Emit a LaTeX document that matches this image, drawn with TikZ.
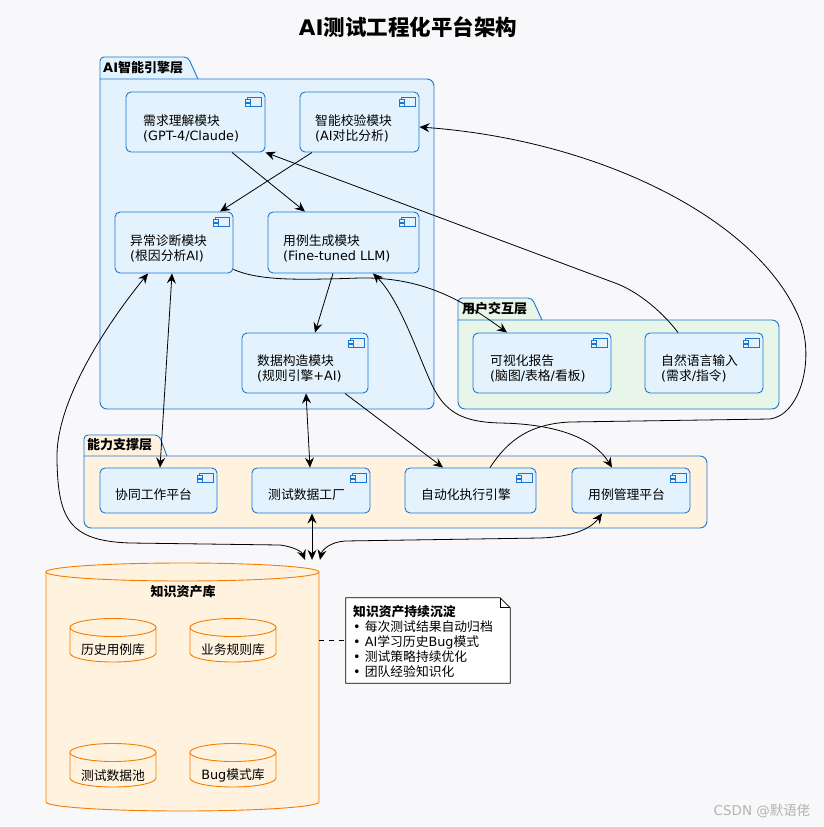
\documentclass[tikz,border=0pt]{standalone}
\usepackage{fontspec}
\setmainfont{DejaVu Sans}
\newfontfamily\cjk{Noto Sans CJK SC}
\usetikzlibrary{arrows.meta}
\definecolor{bline}{HTML}{1976D2}
\definecolor{compfill}{HTML}{E3F2FD}
\definecolor{aifill}{HTML}{E3F2FD}
\definecolor{userfill}{HTML}{E8F5E9}
\definecolor{capfill}{HTML}{FFF3E0}
\definecolor{dborange}{HTML}{F57C00}
\definecolor{bgcol}{HTML}{F8F8FA}
\definecolor{wmgray}{HTML}{B4B4B4}
\newcommand\zh[1]{{\cjk #1}}
\newcommand\cicon[1]{%
  \filldraw[iconst] ([xshift=-18pt,yshift=-6pt]#1.north east) rectangle ++(14pt,-9pt);
  \filldraw[iconst] ([xshift=-20.5pt,yshift=-8pt]#1.north east) rectangle ++(5pt,-2.3pt);
  \filldraw[iconst] ([xshift=-20.5pt,yshift=-12pt]#1.north east) rectangle ++(5pt,-2.3pt);
}
\newcommand\drawcyl[5]{%
  \fill[capfill] (#1-#2,#3) rectangle (#1+#2,#4);
  \fill[capfill] (#1,#4) ellipse [x radius=#2pt, y radius=#5pt];
  \draw[dbline] (#1-#2,#3) -- (#1-#2,#4) arc [start angle=180, end angle=360, x radius=#2pt, y radius=#5pt] -- (#1+#2,#3);
  \filldraw[fill=capfill, dbline] (#1,#3) ellipse [x radius=#2pt, y radius=#5pt];
}
\begin{document}
\begin{tikzpicture}[x=1pt,y=-1pt,
  comp/.style={draw=bline, fill=compfill, rounded corners=5pt, line width=0.9pt, inner sep=0pt},
  iconst/.style={draw=bline, fill=compfill, line width=0.7pt},
  txt/.style={font=\fontsize{12.8}{15}\selectfont, align=left, inner sep=0pt, anchor=west},
  pkgtxt/.style={font=\bfseries\fontsize{13}{15}\selectfont, inner sep=0pt, anchor=west},
  pkgline/.style={draw=bline, line width=0.9pt},
  dbline/.style={draw=dborange, line width=0.9pt},
  tipk/.tip={Stealth[length=10pt,width=9pt,inset=3.5pt]},
  arr/.style={-tipk, line width=0.8pt},
  arrb/.style={tipk-tipk, line width=0.8pt},
]
\useasboundingbox (0,0) rectangle (824,827);
\fill[bgcol] (0,0) rectangle (824,827);

% title
\node[font=\bfseries\fontsize{21.5}{26}\selectfont, inner sep=0pt] (title) at (408,27) {AI\zh{测试工程化平台架构}};

% ===== AI package
\filldraw[pkgline, fill=aifill, rounded corners=4pt] (100,79) -- (100,57) -- (188,57) -- (198,79);
\filldraw[pkgline, fill=aifill, rounded corners=7pt] (100,79) -- (434,79) -- (434,409) -- (100,409) -- (100,79);
\node[pkgtxt] (aipkg) at (103,68) {AI\zh{智能引擎层}};

% ===== user package
\filldraw[pkgline, fill=userfill, rounded corners=4pt] (458,320) -- (458,298) -- (532,298) -- (542,320);
\filldraw[pkgline, fill=userfill, rounded corners=7pt] (458,320) -- (779,320) -- (779,409) -- (458,409) -- (458,320);
\node[pkgtxt] (userpkg) at (462,309) {\zh{用户交互层}};

% ===== capability package
\filldraw[pkgline, fill=capfill, rounded corners=4pt] (84,456) -- (84,435) -- (159,435) -- (167,456);
\filldraw[pkgline, fill=capfill, rounded corners=7pt] (84,456) -- (707,456) -- (707,528) -- (84,528) -- (84,456);
\node[pkgtxt] (cappkg) at (87,445) {\zh{能力支撑层}};

% ===== components
\node[comp, minimum width=139pt, minimum height=60pt] (req) at (195.5,122) {};
\node[comp, minimum width=119pt, minimum height=60pt] (chk) at (359.5,122) {};
\node[comp, minimum width=118pt, minimum height=61pt] (diag) at (174,242.5) {};
\node[comp, minimum width=151pt, minimum height=61pt] (gen) at (343.5,242.5) {};
\node[comp, minimum width=126pt, minimum height=60pt] (data) at (305,363) {};
\node[comp, minimum width=138pt, minimum height=60pt] (vis) at (542,363) {};
\node[comp, minimum width=118pt, minimum height=60pt] (nl) at (704,363) {};
\node[comp, minimum width=117pt, minimum height=45pt] (collab) at (158.5,490.5) {};
\node[comp, minimum width=118pt, minimum height=45pt] (tdf) at (311,490.5) {};
\node[comp, minimum width=131pt, minimum height=45pt] (auto) at (470.5,490.5) {};
\node[comp, minimum width=118pt, minimum height=45pt] (mgmt) at (631,490.5) {};
\foreach \n in {req,chk,diag,gen,data,vis,nl,collab,tdf,auto,mgmt} {\cicon{\n}}

\node[txt] (reqt) at (143,128.5) {\zh{需求理解模块}\\(GPT-4/Claude)};
\node[txt] (chkt) at (315,128.5) {\zh{智能校验模块}\\(AI\zh{对比分析})};
\node[txt] (diagt) at (130,248.5) {\zh{异常诊断模块}\\(\zh{根因分析}AI)};
\node[txt] (gent) at (283,248.5) {\zh{用例生成模块}\\(Fine-tuned LLM)};
\node[txt] (datat) at (257,368.5) {\zh{数据构造模块}\\(\zh{规则引擎}+AI)};
\node[txt] (vist) at (490,368.5) {\zh{可视化报告}\\(\zh{脑图}/\zh{表格}/\zh{看板})};
\node[txt] (nlt) at (661,368.5) {\zh{自然语言输入}\\(\zh{需求}/\zh{指令})};
\node[txt] (collabt) at (115,495) {\zh{协同工作平台}};
\node[txt] (tdft) at (268,495) {\zh{测试数据工厂}};
\node[txt] (autot) at (421,495) {\zh{自动化执行引擎}};
\node[txt] (mgmtt) at (588,495) {\zh{用例管理平台}};

% ===== knowledge base
\node[minimum width=273pt, minimum height=249pt, inner sep=0pt] (kb) at (182.5,687.5) {};
\drawcyl{182.5}{136.5}{572}{802}{9}
\node[font=\bfseries\fontsize{13}{15}\selectfont, inner sep=0pt] (kbt) at (183,592) {\zh{知识资产库}};
\drawcyl{113}{43}{627.5}{653}{9}
\drawcyl{233}{43}{627.5}{653}{9}
\drawcyl{113}{43}{752.5}{778}{9}
\drawcyl{233}{43}{752.5}{778}{9}
\node[txt, anchor=center] (hist) at (113,650) {\zh{历史用例库}};
\node[txt, anchor=center] (rule) at (233,650) {\zh{业务规则库}};
\node[txt, anchor=center] (pool) at (113,775.5) {\zh{测试数据池}};
\node[txt, anchor=center] (bugl) at (233,775.5) {Bug\zh{模式库}};

% ===== note
\node[minimum width=164pt, minimum height=85pt, inner sep=0pt] (note) at (428,640.5) {};
\filldraw[fill=white, draw=black, line width=0.8pt] (note.north west) -- ([xshift=-10pt]note.north east) -- ([yshift=-10pt]note.north east) -- (note.south east) -- (note.south west) -- cycle;
\draw[line width=0.8pt] ([xshift=-10pt]note.north east) |- ([yshift=-10pt]note.north east);
\node[txt] (notet) at (353,641) {\textbf{\zh{知识资产持续沉淀}}\\•~\zh{每次测试结果自动归档}\\•~AI\zh{学习历史}Bug\zh{模式}\\•~\zh{测试策略持续优化}\\•~\zh{团队经验知识化}};
\draw[line width=0.8pt, dash pattern=on 5pt off 5pt] ([yshift=47.5pt]kb.east) -- ([yshift=0.5pt]note.west);

% ===== connectors
\draw[arr] ([xshift=36.5pt]req.south) -- ([xshift=-38.5pt]gen.north);
\draw[arr] ([xshift=-47.5pt]chk.south) -- ([xshift=46pt]diag.north);
\draw[arr] ([xshift=-26pt]nl.north) .. controls (665,315) and (640,292) .. (615,283) -- (req.south east);
\draw[arr] ([xshift=19.5pt]auto.north) .. controls (505,445) and (525,424) .. (570,422) -- (770,419) .. controls (800,415) and (815,360) .. (800,320) .. controls (760,220) and (600,140) .. ([yshift=-5pt]chk.east);
\draw[arr] ([yshift=4pt]diag.south east) .. controls (260,281) and (300,280) .. (360,278) .. controls (420,277) and (460,298) .. ([xshift=-35pt]vis.north);
\draw[arr] ([xshift=-10.5pt]gen.south) -- ([xshift=10pt]data.north);
\draw[arrb] ([xshift=29.5pt]gen.south) .. controls (400,300) and (418,355) .. (432,385) .. controls (445,412) and (462,422) .. (500,423) .. controls (560,424) and (595,440) .. ([xshift=-19pt]mgmt.north);
\draw[arr] ([xshift=40pt]data.south) -- ([xshift=-27.5pt]auto.north);
\draw[arrb] ([xshift=-2pt]diag.south) -- ([xshift=1.5pt]collab.north);
\draw[arrb] ([xshift=1pt]data.south) -- ([xshift=-1pt]tdf.north);
\draw[arrb] ([xshift=1pt]tdf.south) -- ([xshift=129.5pt,yshift=3pt]kb.north);
\draw[arrb] ([xshift=-26pt]diag.south) .. controls (110,320) and (55,400) .. (57,460) .. controls (58,520) and (70,541) .. (130,543) -- (280,545) .. controls (295,547) and (302,552) .. ([xshift=122.5pt,yshift=3pt]kb.north);
\draw[arrb] ([xshift=-29pt]mgmt.south) .. controls (590,530) and (570,537) .. (540,538) -- (345,541) .. controls (330,542) and (322,550) .. ([xshift=137.5pt,yshift=3pt]kb.north);

% watermark
\node[font=\fontsize{13.5}{15}\selectfont, text=wmgray, inner sep=0pt] (wm) at (762,811) {CSDN @\zh{默语佬}};
\end{tikzpicture}
\end{document}
